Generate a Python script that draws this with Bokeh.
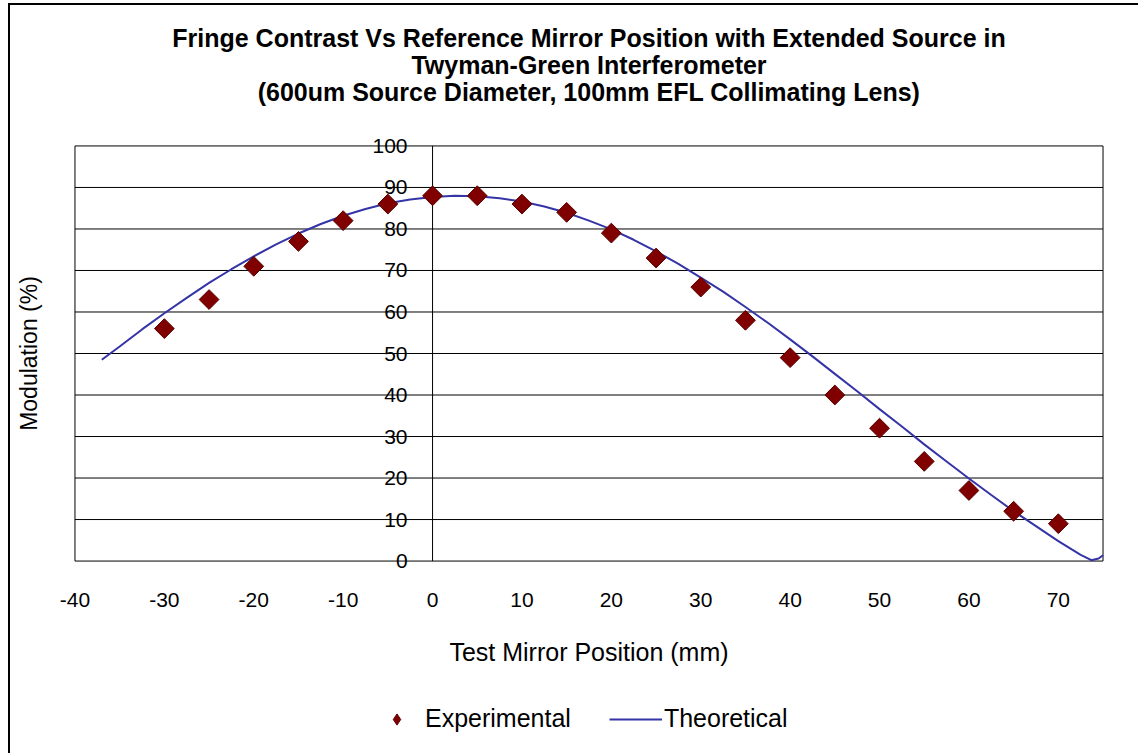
import math
from bokeh.plotting import figure
from bokeh.layouts import column
from bokeh.models import (Range1d, FixedTicker, Legend, LegendItem, Title, LabelSet,
                          ColumnDataSource)
from bokeh.core.properties import value
from bokeh.embed import file_html
from bokeh.resources import INLINE

# ---------------- data ----------------
exp_x = [-30, -25, -20, -15, -10, -5, 0, 5, 10, 15, 20, 25, 30, 35, 40, 45, 50, 55, 60, 65, 70]
exp_y = [56, 63, 71, 77, 82, 86, 88, 88, 86, 84, 79, 73, 66, 58, 49, 40, 32, 24, 17, 12, 9]

theo_x = [-37, -35, -32.5, -30, -27.5, -25, -22.5, -20, -17.5, -15, -12.5, -10, -7.5, -5, -2.5,
          0, 2.5, 5, 7.5, 10, 12.5, 15, 17.5, 20, 22.5, 25, 27.5, 30, 32.5, 35, 37.5, 40,
          42.5, 45, 47.5, 50, 52.5, 55, 57.5, 60, 62.5, 65, 67.5, 70, 71.5, 72.5, 73.7, 74.5, 75]
theo_y = [48.5, 51.7, 55.8, 59.7, 63.4, 67.0, 70.3, 73.4, 76.3, 78.9, 81.2, 83.2, 84.8, 86.2, 87.1,
          87.7, 88.0, 87.9, 87.4, 86.6, 85.4, 83.9, 82.0, 79.9, 77.4, 74.6, 71.6, 68.3, 64.9, 61.2, 57.4, 53.4,
          49.3, 45.1, 40.9, 36.6, 32.4, 28.1, 24.0, 19.9, 15.9, 12.0, 8.4, 4.8, 2.8, 1.5, 0.2, 0.6, 1.4]

x_min, x_max = -40, 75
y_min, y_max = 0, 100
xticks = [-40, -30, -20, -10, 0, 10, 20, 30, 40, 50, 60, 70]
xtick_labels = ["-40", "-30", "-20", "-10", "0", "10", "20", "30", "40", "50", "60", "70"]
yticks = [0, 10, 20, 30, 40, 50, 60, 70, 80, 90, 100]
ytick_labels = ["0", "10", "20", "30", "40", "50", "60", "70", "80", "90", "100"]

title_lines = ["Fringe Contrast Vs Reference Mirror Position with Extended Source in",
               "Twyman-Green Interferometer",
               "(600um Source Diameter, 100mm EFL Collimating Lens)"]
x_title = "Test Mirror Position (mm)"
y_title = "Modulation (%)"
series_names = ["Experimental", "Theoretical"]

FONT = "Liberation Sans"
MARKER_FILL = "#800000"
MARKER_LINE = "#5a0000"
LINE_COLOR = "#3434a6"

# ranges padded a little so the box edges and edge labels are not clipped
p = figure(width=1128, height=680, output_backend="svg", toolbar_location=None,
           x_range=Range1d(x_min - 0.5, x_max + 0.5), y_range=Range1d(y_min - 3, y_max + 3),
           min_border_left=60, min_border_right=31, min_border_top=128, min_border_bottom=112,
           background_fill_color="white", border_fill_color="white")
p.outline_line_color = None
p.grid.visible = False

# spacer between plot area and title block
p.add_layout(Title(text=" ", text_font_size="1px", standoff=26), "above")
for txt in reversed(title_lines):
    p.add_layout(Title(text=txt, align="center", offset=-24, text_font=FONT,
                       text_font_size="25px", text_font_style="bold", text_color="black",
                       standoff=-3), "above")

# x axis
p.xaxis.ticker = FixedTicker(ticks=xticks)
p.xaxis.major_label_overrides = {t: l for t, l in zip(xticks, xtick_labels)}
p.xaxis.axis_line_color = None
p.xaxis.major_tick_line_color = None
p.xaxis.minor_tick_line_color = None
p.xaxis.major_tick_out = 0
p.xaxis.major_tick_in = 0
p.xaxis.major_label_standoff = 19
p.xaxis.major_label_text_font = FONT
p.xaxis.major_label_text_font_size = "21px"
p.xaxis.major_label_text_color = "black"
p.xaxis.axis_label = x_title
p.xaxis.axis_label_standoff = 28
p.xaxis.axis_label_text_font = FONT
p.xaxis.axis_label_text_font_size = "25px"
p.xaxis.axis_label_text_font_style = "normal"
p.xaxis.axis_label_text_color = "black"

# left axis: title only
p.yaxis.ticker = FixedTicker(ticks=[])
p.yaxis.axis_line_color = None
p.yaxis.major_tick_line_color = None
p.yaxis.minor_tick_line_color = None
p.yaxis.major_tick_out = 0
p.yaxis.major_label_text_font_size = "0px"
p.yaxis.axis_label = y_title
p.yaxis.axis_label_standoff = 29
p.yaxis.axis_label_text_font = FONT
p.yaxis.axis_label_text_font_size = "23px"
p.yaxis.axis_label_text_font_style = "normal"
p.yaxis.axis_label_text_color = "black"

# horizontal grid lines (incl. box top/bottom) and vertical lines: box sides + value axis at x=0
n = len(yticks)
p.segment(x0=[x_min] * n, y0=yticks, x1=[x_max] * n, y1=yticks,
          line_color="black", line_width=1)
vx = [x_min, 0, x_max]
p.segment(x0=vx, y0=[y_min] * 3, x1=vx, y1=[y_max] * 3, line_color="black", line_width=1)

# value labels beside the x=0 axis
ysrc = ColumnDataSource(dict(x=[0] * n, y=yticks, t=ytick_labels))
p.add_layout(LabelSet(x="x", y="y", text="t", source=ysrc, x_offset=-25,
                      text_align="right", text_baseline="middle",
                      text_font=value(FONT), text_font_size="21px", text_color="black"))

p.line(theo_x, theo_y, line_color=LINE_COLOR, line_width=2)
p.scatter(exp_x, exp_y, marker="square", angle=math.pi / 4, size=14,
          fill_color=MARKER_FILL, line_color=MARKER_LINE, line_width=1)

# legend strip below the chart
pl = figure(width=1128, height=68, output_backend="svg", toolbar_location=None,
            x_range=Range1d(0, 1), y_range=Range1d(0, 1),
            x_axis_location=None, y_axis_location=None, min_border=0,
            background_fill_color="white", border_fill_color="white")
pl.outline_line_color = None
pl.grid.visible = False
lsc = pl.scatter([5], [5], marker="diamond", size=14,
                 fill_color=MARKER_FILL, line_color=MARKER_LINE, line_width=1)
lln = pl.line([5, 6], [5, 6], line_color=LINE_COLOR, line_width=2)
legend = Legend(items=[LegendItem(label=series_names[0], renderers=[lsc]),
                       LegendItem(label=series_names[1], renderers=[lln])],
                orientation="horizontal", location=(300, 20),
                glyph_width=53, glyph_height=28, label_standoff=2, spacing=38,
                label_text_font=FONT, label_text_font_size="25px", label_text_color="black",
                border_line_color=None, background_fill_alpha=0, margin=0, padding=4)
pl.add_layout(legend)

layout = column(p, pl, spacing=0,
                styles={"border-left": "2px solid black", "border-top": "2px solid black",
                        "margin-left": "8px", "margin-top": "3px"})

open("out.html", "w").write(file_html(layout, INLINE))
